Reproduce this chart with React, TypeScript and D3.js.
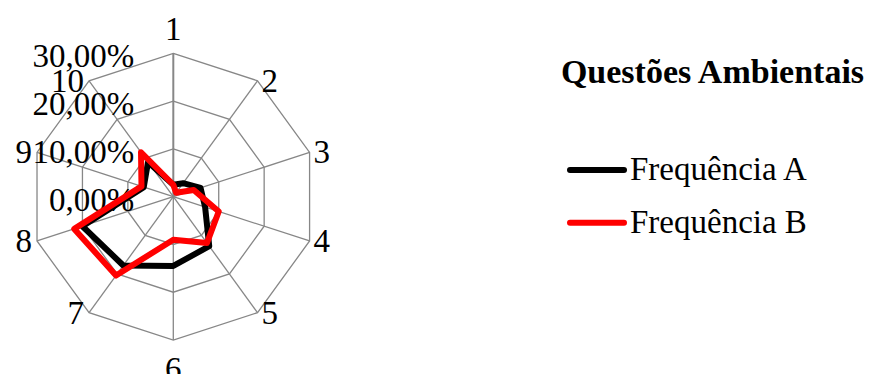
import React from "react";
import * as d3 from "d3";

// Radar categories (questions 1–10)
const categories = ["1", "2", "3", "4", "5", "6", "7", "8", "9", "10"];
// Percent values per series
const frequenciaA = [2.5, 3.5, 6, 7, 12.8, 14.5, 17.8, 20, 6.5, 9];
const frequenciaB = [2.5, 1, 4.5, 10, 12, 9, 20.4, 21.8, 7, 11.5];
const seriesNames = ["Frequência A", "Frequência B"];
const seriesColors = ["#000000", "#ff0000"];
const levelTicks = [0, 10, 20, 30];
const chartTitle = "Questões Ambientais";

const W = 877;
const H = 374;
const cx = 173.3;
const cy = 196.7;
const R = 143.3;
const FONT = "'Liberation Serif', 'Times New Roman', serif";

export default function App() {
  const r = d3.scaleLinear().domain([0, 30]).range([0, R]);
  const n = categories.length;
  const angle = (i: number) => (i * 2 * Math.PI) / n;
  const pt = (i: number, v: number): [number, number] => [
    cx + r(v) * Math.sin(angle(i)),
    cy - r(v) * Math.cos(angle(i)),
  ];

  const radial = d3
    .lineRadial<number>()
    .angle((_, i) => angle(i))
    .radius((d) => r(d))
    .curve(d3.curveLinearClosed);

  const ring = (v: number) =>
    d3.range(n).map((i) => pt(i, v).join(",")).join(" ");

  const series = [frequenciaA, frequenciaB];

  return (
    <svg
      width={W}
      height={H}
      style={{ position: "absolute", left: 0, top: 0, background: "#fff" }}
      fontFamily={FONT}
    >
      {/* grid rings */}
      {levelTicks.slice(1).map((t) => (
        <polygon key={t} points={ring(t)} fill="none" stroke="#878787" strokeWidth={1.3} />
      ))}
      {/* spokes */}
      {categories.map((c, i) => {
        const [x, y] = pt(i, 30);
        return (
          <line
            key={c}
            x1={cx}
            y1={cy}
            x2={x}
            y2={y}
            stroke="#878787"
            strokeWidth={i === 0 ? 2 : 1.3}
          />
        );
      })}
      {/* value axis labels */}
      {levelTicks.map((t) => (
        <text
          key={t}
          x={cx - 39}
          y={cy - r(t) + 14}
          fontSize={33}
          textAnchor="end"
          fill="#000"
        >
          {d3.format(".2f")(t).replace(".", ",") + "%"}
        </text>
      ))}
      {/* category labels */}
      {categories.map((c, i) => {
        const [vx, vy] = pt(i, 30);
        const s = Math.sin(angle(i));
        const co = Math.cos(angle(i));
        let x = vx;
        let y = vy + 11;
        let anchor: "start" | "end" | "middle" = "middle";
        if (Math.abs(s) < 0.1) {
          y = co > 0 ? vy - 13 : vy + 40;
        } else {
          anchor = s > 0 ? "start" : "end";
          x = vx + (s > 0 ? 4 : -5);
        }
        return (
          <text key={c} x={x} y={y} fontSize={33} textAnchor={anchor} fill="#000">
            {c}
          </text>
        );
      })}
      {/* series */}
      <g transform={`translate(${cx},${cy})`}>
        {series.map((vals, k) => (
          <path
            key={k}
            d={radial(vals) || ""}
            fill="none"
            stroke={seriesColors[k]}
            strokeWidth={6}
            strokeLinejoin="round"
          />
        ))}
      </g>
      {/* title */}
      <text x={712.5} y={83} fontSize={34} fontWeight="bold" textAnchor="middle" fill="#000">
        {chartTitle}
      </text>
      {/* legend */}
      {seriesNames.map((name, k) => {
        const y = 170 + k * 52.7;
        return (
          <g key={name}>
            <line
              x1={570}
              x2={624}
              y1={y}
              y2={y}
              stroke={seriesColors[k]}
              strokeWidth={6}
              strokeLinecap="round"
            />
            <text x={630} y={y + 10} fontSize={33} fill="#000">
              {name}
            </text>
          </g>
        );
      })}
    </svg>
  );
}
